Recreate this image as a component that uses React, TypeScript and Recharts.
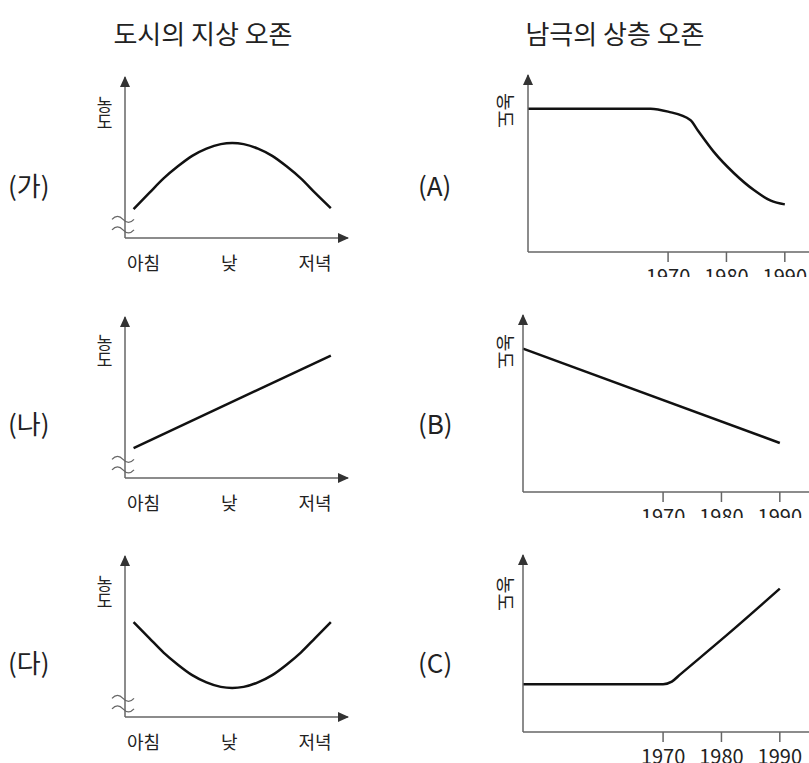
import React from 'react';
import { LineChart, Line, XAxis, YAxis, ReferenceDot } from 'recharts';

const KR = '"Noto Sans CJK KR", "Noto Sans", sans-serif';
const AXIS = '#666';
const HEAD = '#333';
const INK = '#111';
const TEXT = '#222';

// 도시의 지상 오존 — x: 시각(시), y: 농도(상대값 0~100)
const dayTicks = [7, 13, 19];
const dayLabels = ['아침', '낮', '저녁'];
const dayDomain = [5.7, 21.3];

const gaHour = [6.3, 7.4, 8.4, 9.4, 10.4, 11.4, 12.4, 13.2, 14, 15, 16, 17, 18, 19, 20.1];
const gaLevel = [18, 28, 37, 44.5, 51, 55.5, 58.3, 59, 58.3, 55.5, 51, 44.5, 37, 28, 18.5];

const naHour = [6.3, 20.1];
const naLevel = [18.6, 76];

const daHour = [6.3, 7.4, 8.4, 9.4, 10.4, 11.4, 12.4, 13.2, 14, 15, 16, 17, 18, 19, 20.1];
const daLevel = [59, 49, 40, 32.5, 26, 21.5, 18.7, 18, 18.7, 21.5, 26, 32.5, 40, 49, 59];

// 남극의 상층 오존 — x: 연도
const yearTicks = [1970, 1980, 1990];
const yearDomain = [1946, 1995];

const aYear = [1946, 1967, 1970, 1973.8, 1975.2, 1977.8, 1981.3, 1984.7, 1987.6, 1990];
const aLevel = [81, 81, 79.3, 74.6, 68.2, 56.7, 44.5, 35, 29, 26.9];

const bYear = [1946, 1990];
const bLevel = [81, 27.7];

const cYear = [1946, 1970, 1971.5, 1973, 1981, 1990];
const cLevel = [27, 27, 28.5, 32.7, 55, 81];

// 물결 표시(축 생략) 위치
const breakLevels = [12.5, 6];

const zip = (xs: number[], ys: number[]) => xs.map((x, i) => ({ x, y: ys[i] }));

const UpArrow = (p: any) => (
  <path d={`M${p.cx},${p.cy - 1} L${p.cx - 5},${p.cy + 10} L${p.cx + 5},${p.cy + 10} Z`} fill={HEAD} />
);
const RightArrow = (p: any) => (
  <path d={`M${p.cx + 1},${p.cy} L${p.cx - 10},${p.cy - 5} L${p.cx - 10},${p.cy + 5} Z`} fill={HEAD} />
);
const Tilde = (p: any) => (
  <path
    d={`M${p.cx - 13},${p.cy + 1.5} q5.5,-6 11,0 t11,0`}
    fill="none"
    stroke={AXIS}
    strokeWidth={1.3}
  />
);

const axisLine = { stroke: AXIS, strokeWidth: 1.5 };

type Row = { x: number; y: number };

function DayPanel({ rows, top, curve }: { rows: Row[]; top: number; curve: 'monotone' | 'linear' }) {
  return (
    <div style={{ position: 'absolute', left: 90, top, width: 270, height: 230 }}>
      <LineChart width={270} height={218} data={rows} margin={{ top: 17, right: 12, bottom: 0, left: 34 }}>
        <XAxis
          dataKey="x"
          type="number"
          domain={dayDomain}
          ticks={dayTicks}
          interval={0}
          tickFormatter={(v: number) => dayLabels[dayTicks.indexOf(v)]}
          height={40}
          tickLine={false}
          tickSize={0}
          tickMargin={19}
          axisLine={axisLine}
          tick={{ fill: TEXT, fontSize: 18, fontFamily: KR }}
        />
        <YAxis type="number" domain={[0, 100]} width={1} tick={false} tickLine={false} axisLine={axisLine} />
        <Line dataKey="y" type={curve} stroke={INK} strokeWidth={2.5} dot={false} isAnimationActive={false} />
        {breakLevels.map((lv) => (
          <ReferenceDot key={lv} x={dayDomain[0]} y={lv} r={0} shape={Tilde} />
        ))}
        <ReferenceDot x={dayDomain[0]} y={100} r={0} shape={UpArrow} />
        <ReferenceDot x={dayDomain[1]} y={0} r={0} shape={RightArrow} />
      </LineChart>
    </div>
  );
}

function YearPanel({ rows, top, left, clip }: { rows: Row[]; top: number; left: number; clip: number }) {
  return (
    <div style={{ position: 'absolute', left: 480, top, width: 329, height: clip, overflow: 'hidden' }}>
      <LineChart width={left + 286} height={232} data={rows} margin={{ top: 15, right: 0, bottom: 0, left: left - 1 }}>
        <XAxis
          dataKey="x"
          type="number"
          domain={yearDomain}
          ticks={yearTicks}
          interval={0}
          height={40}
          tickSize={10}
          tickMargin={8}
          tickLine={{ stroke: AXIS, strokeWidth: 1.5 }}
          axisLine={axisLine}
          tick={{ fill: TEXT, fontSize: 20, fontFamily: KR }}
        />
        <YAxis type="number" domain={[0, 100]} width={1} tick={false} tickLine={false} axisLine={axisLine} />
        <Line dataKey="y" type="monotone" stroke={INK} strokeWidth={2.5} dot={false} isAnimationActive={false} />
        <ReferenceDot x={yearDomain[0]} y={100} r={0} shape={UpArrow} />
      </LineChart>
    </div>
  );
}

const textBase: React.CSSProperties = { position: 'absolute', fontFamily: KR, color: TEXT, whiteSpace: 'nowrap' };

function Tag({ text, left, cy }: { text: string; left: number; cy: number }) {
  return <div style={{ ...textBase, left, top: cy - 15, fontSize: 26, lineHeight: '30px' }}>{text}</div>;
}

function LeftUnit({ top }: { top: number }) {
  return (
    <div style={{ ...textBase, left: 96, top, fontSize: 17, lineHeight: 1, writingMode: 'vertical-rl' }}>농도</div>
  );
}

function RightUnit({ top }: { top: number }) {
  return (
    <div
      style={{
        ...textBase,
        left: 497,
        top,
        fontSize: 19,
        lineHeight: 1,
        writingMode: 'vertical-rl',
        textOrientation: 'sideways',
      }}
    >
      농도
    </div>
  );
}

export default function App() {
  return (
    <div
      style={{
        position: 'absolute',
        left: 0,
        top: 0,
        width: 809,
        height: 763,
        overflow: 'hidden',
        background: '#fff',
      }}
    >
      <div style={{ ...textBase, left: 0, width: 406, top: 18, textAlign: 'center', fontSize: 26, lineHeight: '30px' }}>
        도시의 지상 오존
      </div>
      <div style={{ ...textBase, left: 421, width: 388, top: 18, textAlign: 'center', fontSize: 26, lineHeight: '30px' }}>
        남극의 상층 오존
      </div>

      <Tag text="(가)" left={8} cy={185} />
      <Tag text="(나)" left={8} cy={423} />
      <Tag text="(다)" left={8} cy={662} />
      <Tag text="(A)" left={418} cy={185} />
      <Tag text="(B)" left={418} cy={423} />
      <Tag text="(C)" left={418} cy={662} />

      <DayPanel rows={zip(gaHour, gaLevel)} top={60} curve="monotone" />
      <DayPanel rows={zip(naHour, naLevel)} top={300} curve="linear" />
      <DayPanel rows={zip(daHour, daLevel)} top={539} curve="monotone" />
      <LeftUnit top={96} />
      <LeftUnit top={334} />
      <LeftUnit top={575} />

      <YearPanel rows={zip(aYear, aLevel)} top={60} left={48} clip={217} />
      <YearPanel rows={zip(bYear, bLevel)} top={300} left={43} clip={218} />
      <YearPanel rows={zip(cYear, cLevel)} top={540} left={43} clip={223} />
      <RightUnit top={93} />
      <RightUnit top={334} />
      <RightUnit top={576} />
    </div>
  );
}
